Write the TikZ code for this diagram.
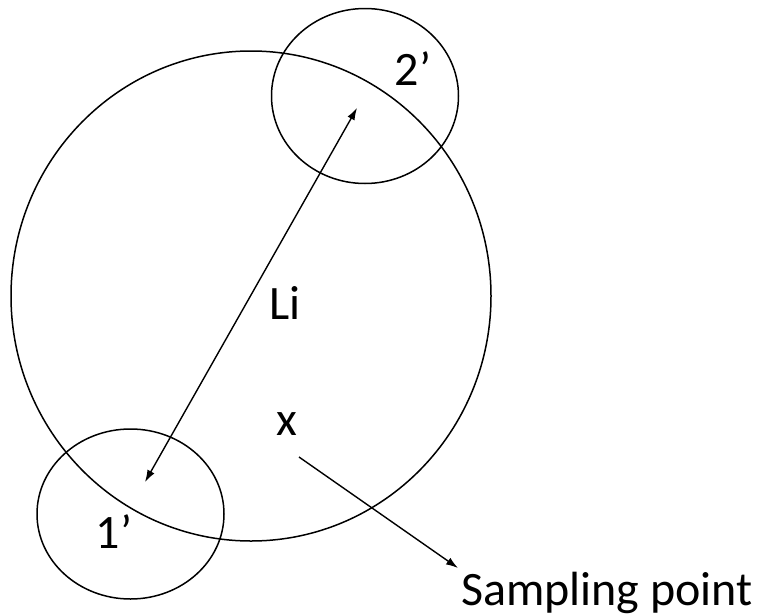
\documentclass[tikz,border=0pt]{standalone}
\usepackage{fontspec}
\setmainfont{Carlito}
\usetikzlibrary{shapes.geometric,arrows.meta}
\tikzset{
  ring/.style={draw=black, line width=1.5pt, ellipse, inner sep=0pt},
  lbl/.style={inner sep=0pt, font=\fontsize{48}{56}\selectfont},
  arr/.style={line width=1.4pt, -{Latex[length=12pt,width=8pt]}},
  darr/.style={line width=1.4pt, {Latex[length=12pt,width=8pt]}-{Latex[length=12pt,width=8pt]}}
}
\begin{document}
\begin{tikzpicture}[x=1pt,y=-1pt]
\useasboundingbox (0,0) rectangle (758,616);
\node[ring, minimum width=480pt, minimum height=490pt] (big) at (251,296) {};
\node[ring, minimum width=187pt, minimum height=175pt] (c2) at (365,96) {};
\node[ring, minimum width=187pt, minimum height=170pt] (c1) at (130.5,514) {};
\node[lbl] (t2) at (413,69) {2’};
\node[lbl] (t1) at (114,532) {1’};
\node[lbl] (li) at (285,303) {Li};
\node[lbl] (xx) at (287,424) {x};
\node[lbl, anchor=base west] (sp) at (461,605) {Sampling point};
\coordinate (p1) at (145,482);
\coordinate (p2) at (357,108);
\coordinate (s0) at (299,457);
\coordinate (s1) at (458,568);
\draw[darr] (p1) -- (p2);
\draw[arr] (s0) -- (s1);
\end{tikzpicture}
\end{document}
